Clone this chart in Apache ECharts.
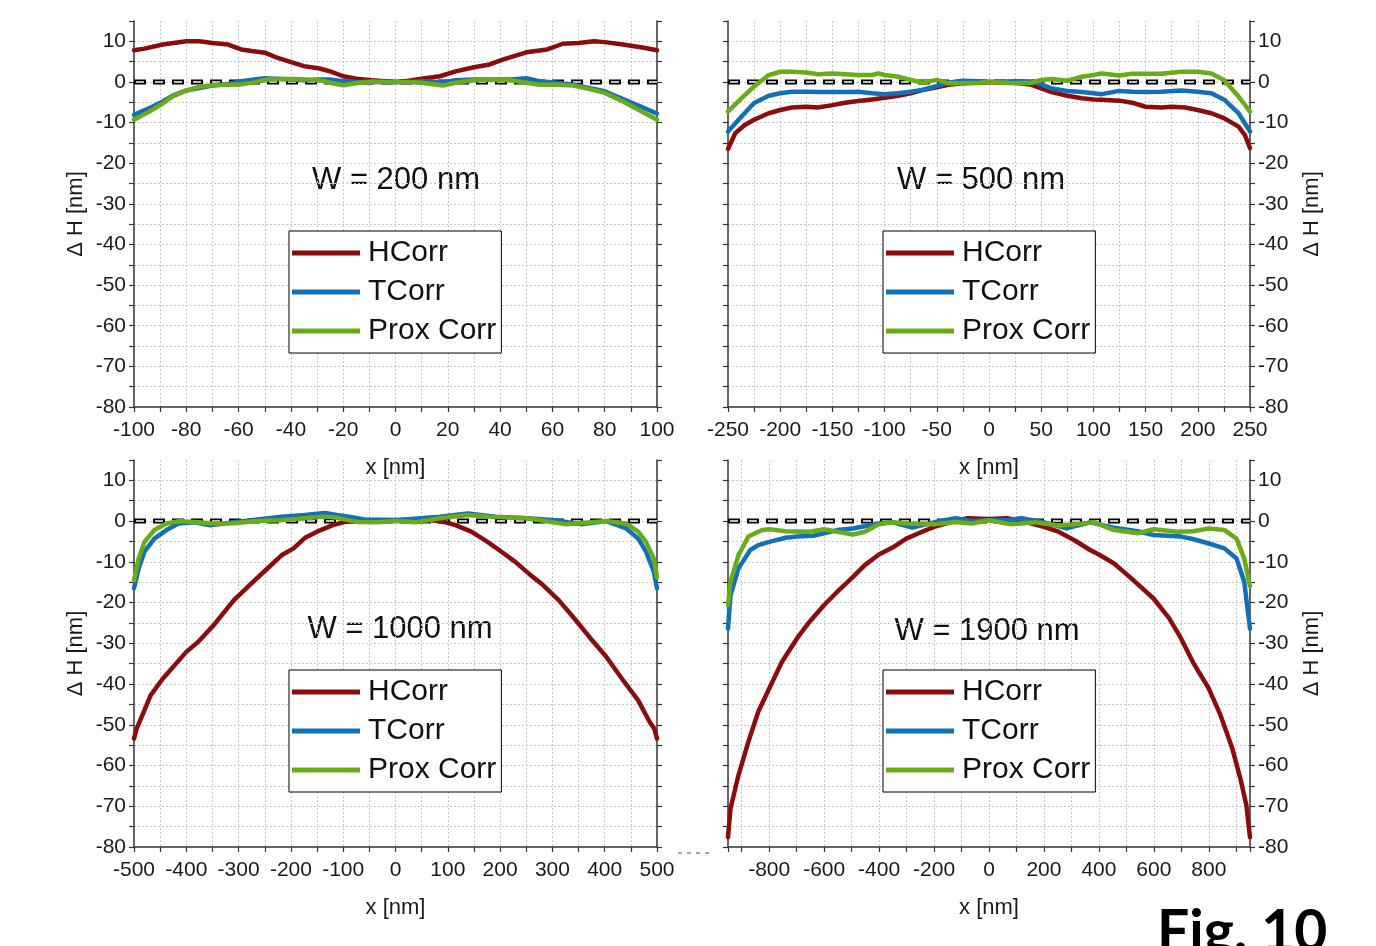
<!DOCTYPE html>
<html>
<head>
<meta charset="utf-8">
<script src="https://cdn.jsdelivr.net/npm/echarts@6/dist/echarts.min.js"></script>
<style>
html,body{margin:0;padding:0;background:#fff;}
#chart{width:1376px;height:946px;}
</style>
</head>
<body>
<div id="chart"></div>
<script>
// ---------- DATA ----------
const seriesNames = ['HCorr', 'TCorr', 'Prox Corr'];
const panelTitles = ['W = 200 nm', 'W = 500 nm', 'W = 1000 nm', 'W = 1900 nm'];
const xAxisName = 'x [nm]';
const yAxisName = 'Δ H [nm]';
const figLabel = 'Fig. 10';
const yRange = [-80, 15];

// W = 200 nm
const xRange200 = [-100, 100];
const hcorr200X = [-100,-96,-89,-80,-75,-70,-64,-59,-55,-50,-45,-39,-35,-29,-25,-20,-14,-9,-4,0,5,10,17,23,30,36,41,50,58,64,70,76,80,87,95,100];
const hcorr200Y = [7.8,8.2,9.2,10.0,10.0,9.6,9.2,8.0,7.6,7.2,5.9,4.7,3.9,3.3,2.6,1.4,0.7,0.4,0.2,0,0.3,0.8,1.4,2.6,3.6,4.3,5.5,7.3,8.0,9.4,9.6,10.0,9.8,9.2,8.4,7.8];
const tcorr200X = [-100,-95,-89,-85,-80,-75,-70,-64,-59,-54,-50,-44,-39,-34,-29,-25,-20,-14,-9,-4,0,5,10,18,23,30,36,44,50,55,62,68,74,80,87,94,100];
const tcorr200Y = [-8.1,-6.7,-4.8,-3.3,-2.1,-1.5,-0.9,-0.5,0.2,0.6,0.9,0.7,0.6,0.4,0.6,0.6,0.2,0,0,0,0,0,0.2,-0.1,0.4,0.6,0.6,0.6,0.9,0.2,-0.2,-0.7,-1.5,-2.3,-4.2,-6.1,-7.8];
const prox200X = [-100,-95,-89,-85,-80,-75,-70,-64,-59,-54,-49,-44,-39,-34,-29,-25,-20,-14,-9,-4,0,5,10,18,23,30,36,44,50,55,62,68,74,80,87,94,100];
const prox200Y = [-9.3,-7.6,-5.3,-3.5,-2.1,-1.2,-0.8,-0.7,-0.6,-0.1,0.6,0.7,0.7,0.6,0.4,-0.2,-0.8,-0.2,0.1,0,0,0,-0.2,-0.9,-0.2,0.4,0.6,0.4,-0.2,-0.7,-0.7,-0.9,-1.7,-2.7,-4.8,-7.2,-9.3];

// W = 500 nm
const xRange500 = [-250, 250];
const hcorr500X = [-250,-243,-234,-225,-211,-200,-189,-175,-164,-150,-138,-125,-112,-100,-87,-75,-64,-50,-39,-25,-10,0,25,41,50,60,75,89,100,108,125,137,150,165,175,188,200,213,225,239,245,250];
const hcorr500Y = [-16.5,-12.6,-10.6,-9.3,-7.7,-6.9,-6.3,-6.1,-6.3,-5.7,-5.1,-4.7,-4.3,-3.9,-3.4,-2.8,-2.0,-1.3,-0.7,-0.3,-0.2,0,-0.2,-0.7,-1.6,-2.5,-3.4,-4.0,-4.3,-4.4,-4.6,-5.1,-6.1,-6.3,-6.1,-6.3,-6.9,-7.7,-8.9,-11.0,-13.0,-16.3];
const tcorr500X = [-250,-237,-225,-211,-200,-189,-175,-164,-150,-138,-125,-112,-100,-87,-75,-64,-50,-39,-25,-10,0,25,41,50,60,75,89,100,108,125,137,150,165,184,200,213,225,239,250];
const tcorr500Y = [-12.2,-8.5,-5.2,-3.4,-2.8,-2.4,-2.4,-2.5,-2.5,-2.5,-2.4,-2.8,-3.0,-2.8,-2.4,-2.0,-1.0,-0.2,0.3,0.2,0,0.2,0.1,-0.6,-1.6,-2.2,-2.5,-2.8,-3.0,-2.2,-2.4,-2.5,-2.4,-2.1,-2.4,-2.8,-4.3,-7.7,-12.2];
const prox500X = [-250,-237,-225,-211,-200,-189,-175,-164,-150,-138,-125,-112,-106,-100,-87,-75,-64,-50,-39,-25,-10,0,25,41,50,60,75,89,100,108,125,137,150,165,184,200,213,225,239,250];
const prox500Y = [-7.3,-4.0,-1.1,1.7,2.5,2.5,2.3,1.9,2.1,1.9,1.7,1.7,2.1,1.7,1.3,0.5,-0.2,0.5,-0.3,-0.3,-0.2,0,-0.3,-0.2,0.5,0.7,0.3,1.3,1.7,2.1,1.6,2.0,2.0,2.0,2.5,2.5,2.1,0.5,-3.6,-7.3];

// W = 1000 nm
const xRange1000 = [-500, 500];
const hcorr1000X = [-500,-495,-468,-445,-400,-377,-348,-309,-279,-248,-218,-195,-173,-150,-120,-97,-67,0,70,96,115,145,176,198,229,255,282,312,342,373,403,433,464,486,495,500];
const hcorr1000Y = [-53.4,-51,-42.7,-38.7,-32.1,-29.6,-25.6,-19.4,-15.7,-12.0,-8.4,-6.7,-4.1,-2.6,-1.0,-0.2,0.2,0.3,0.2,-0.3,-1.0,-2.6,-5.1,-7.1,-10.0,-12.9,-15.7,-19.4,-23.9,-28.8,-33.3,-38.7,-44,-49.3,-51,-53.4];
const tcorr1000X = [-500,-491,-480,-461,-438,-415,-385,-354,-309,-264,-218,-173,-135,-112,-89,-59,0,85,138,191,252,305,356,403,441,464,479,494,500];
const tcorr1000Y = [-16.5,-11.6,-7.5,-4.3,-2.2,-0.6,-0.3,-1.0,-0.3,0.4,1.1,1.5,2.0,1.5,1.1,0.4,0.2,1.1,1.9,1.1,0.7,0.2,-0.8,0,-1.8,-4.3,-7.5,-12.4,-16.5];
const prox1000X = [-500,-491,-480,-461,-438,-415,-385,-347,-309,-264,-218,-173,-135,-112,-74,-36,0,39,85,138,176,252,327,403,441,464,479,494,500];
const prox1000Y = [-14.5,-9.2,-5.1,-2.2,-0.6,0,-0.2,-0.6,-0.5,0,0.2,0.7,1.1,0.8,-0.2,-0.3,0,-0.3,0.7,1.5,1.1,0.7,-0.8,0,-0.6,-2.6,-5.1,-9.2,-13.8];

// W = 1900 nm
const xRange1900 = [-950, 950];
const hcorr1900X = [-950,-941,-912,-876,-840,-800,-754,-699,-653,-600,-553,-495,-452,-401,-351,-301,-250,-200,-135,-78,0,66,138,200,253,311,368,400,455,512,599,656,699,742,800,843,886,915,937,950];
const hcorr1900Y = [-77.6,-70.6,-62.4,-54.2,-46.8,-41.1,-34.6,-28.8,-24.7,-20.6,-17.4,-13.7,-10.8,-8.2,-6.5,-4.3,-2.8,-1.4,-0.2,0.7,0.5,0.7,-0.3,-1.4,-2.6,-4.7,-7.1,-8.2,-10.4,-13.7,-19.0,-23.9,-28.8,-34.6,-41.1,-47.7,-55.9,-63.2,-69.8,-77.6];
const tcorr1900X = [-950,-941,-912,-869,-840,-800,-740,-699,-639,-600,-553,-495,-401,-351,-279,-200,-121,-63,0,66,118,200,282,368,455,541,599,699,742,800,857,901,929,950];
const tcorr1900Y = [-26.4,-18.2,-11.6,-7.1,-5.9,-5.1,-4.1,-3.8,-3.6,-3.0,-2.2,-1.8,-0.6,-0.3,-1.6,-0.3,0.7,0,0.2,0.2,0.7,-0.3,-1.8,-0.3,-1.6,-2.5,-3.4,-3.8,-4.4,-5.5,-6.7,-9.2,-14.9,-26.4];
const prox1900X = [-950,-941,-912,-876,-826,-800,-740,-653,-600,-553,-495,-452,-401,-351,-294,-200,-121,-63,0,81,167,253,311,383,455,541,599,685,742,800,857,901,929,950];
const prox1900Y = [-20.6,-14.9,-8.4,-3.8,-2.2,-2.0,-2.5,-2.6,-2.0,-2.6,-3.3,-2.6,-0.8,-0.3,-0.6,-0.8,-0.2,-0.6,0.2,-0.8,-0.3,-1.1,-0.8,-0.3,-2.2,-3.0,-2.0,-2.6,-2.5,-1.8,-2.2,-4.3,-9.2,-16.0];

// ---------- STYLE / LAYOUT ----------
const FONT = '"Liberation Sans", Arial, sans-serif';
const colors = ['#8a0c0c', '#1470b6', '#6aab1a'];
const grids = [
  {left: 134, top: 21, width: 523, height: 386},
  {left: 728, top: 21, width: 522, height: 386},
  {left: 134, top: 460, width: 523, height: 387},
  {left: 728, top: 460, width: 522, height: 387}
];
const panels = [
  {range: xRange200, interval: 10, labelStep: 20, data: [[hcorr200X, hcorr200Y], [tcorr200X, tcorr200Y], [prox200X, prox200Y]], yRight: false, title: [396, 180], legend: [289, 231]},
  {range: xRange500, interval: 25, labelStep: 50, data: [[hcorr500X, hcorr500Y], [tcorr500X, tcorr500Y], [prox500X, prox500Y]], yRight: true, title: [981, 180], legend: [883, 231]},
  {range: xRange1000, interval: 50, labelStep: 100, data: [[hcorr1000X, hcorr1000Y], [tcorr1000X, tcorr1000Y], [prox1000X, prox1000Y]], yRight: false, title: [400, 629], legend: [289, 670]},
  {range: xRange1900, interval: null, splitNumber: 19, labelStep: 200, data: [[hcorr1900X, hcorr1900Y], [tcorr1900X, tcorr1900Y], [prox1900X, prox1900Y]], yRight: true, title: [987, 631], legend: [883, 670]}
];

const zip = (xs, ys) => xs.map((x, i) => [x, ys[i]]);
const gridLine = {show: true, showMinLine: false, showMaxLine: false, lineStyle: {color: '#c9c9c9', width: 1, type: [2, 2]}};
const axisLine = {show: true, onZero: false, lineStyle: {color: '#333', width: 1.5}};

const xAxes = [], yAxes = [], series = [], legends = [], graphics = [];

panels.forEach((p, gi) => {
  const xa = {
    type: 'value', gridIndex: gi, min: p.range[0], max: p.range[1],
    axisLine: axisLine,
    axisTick: {show: true, length: 5, lineStyle: {color: '#333', width: 1.2}},
    axisLabel: {
      fontSize: 21, fontFamily: FONT, color: '#1a1a1a', margin: 13,
      showMinLabel: true, showMaxLabel: true,
      formatter: v => (v % p.labelStep === 0 && Math.abs(v) < 949.5 || (Math.abs(v) === Math.abs(p.range[1]) && p.range[1] % p.labelStep === 0)) ? String(v) : ''
    },
    splitLine: gridLine,
    name: xAxisName, nameLocation: 'middle', nameGap: 50,
    nameTextStyle: {fontSize: 22, fontFamily: FONT, color: '#1a1a1a'}
  };
  if (p.interval) xa.interval = p.interval; else xa.splitNumber = p.splitNumber;
  xAxes.push(xa);

  const mainPos = p.yRight ? 'right' : 'left';
  const otherPos = p.yRight ? 'left' : 'right';
  yAxes.push({
    type: 'value', gridIndex: gi, position: mainPos, min: yRange[0], max: yRange[1], interval: 5,
    axisLine: axisLine,
    axisTick: {show: true, length: 5, lineStyle: {color: '#333', width: 1.2}},
    axisLabel: {fontSize: 21, fontFamily: FONT, color: '#1a1a1a', margin: 8,
      formatter: v => (v % 10 === 0 && v <= 10) ? String(v) : ''},
    splitLine: gridLine,
    name: yAxisName, nameLocation: 'middle', nameRotate: 90, nameGap: p.yRight ? 51 : 47,
    nameTextStyle: {fontSize: 22, fontFamily: FONT, color: '#1a1a1a'}
  });
  yAxes.push({
    type: 'value', gridIndex: gi, position: otherPos, min: yRange[0], max: yRange[1], interval: 5,
    axisLine: axisLine,
    axisTick: {show: true, length: 5, lineStyle: {color: '#333', width: 1.2}},
    axisLabel: {show: false},
    splitLine: {show: false}
  });

  const yIdx = gi * 2;
  const zeroData = [[p.range[0], 0], [p.range[1], 0]];
  series.push({
    type: 'line', name: 'zero', xAxisIndex: gi, yAxisIndex: yIdx, data: zeroData,
    showSymbol: false, silent: true, z: 1,
    lineStyle: {color: '#000', width: 5, type: [12, 7]}
  });
  series.push({
    type: 'line', name: 'zero2', xAxisIndex: gi, yAxisIndex: yIdx, data: zeroData,
    showSymbol: false, silent: true, z: 1,
    lineStyle: {color: '#fff', width: 1.5, type: [8, 11], dashOffset: -2}
  });
  p.data.forEach((d, si) => {
    series.push({
      type: 'line', name: seriesNames[si], xAxisIndex: gi, yAxisIndex: yIdx,
      data: zip(d[0], d[1]), showSymbol: false, z: 3 + si,
      color: colors[si],
      lineStyle: {color: colors[si], width: 4.5, join: 'round', cap: 'round'}
    });
  });

  legends.push({
    left: p.legend[0], top: p.legend[1], orient: 'vertical',
    data: seriesNames, icon: 'rect', itemWidth: 68, itemHeight: 5, itemGap: 9,
    padding: [7, 5, 7, 3], borderColor: '#000', borderWidth: 1, backgroundColor: '#fff',
    selectedMode: false,
    textStyle: {fontSize: 30, fontFamily: FONT, color: '#111', padding: [0, 0, 0, 3]}
  });

  graphics.push({
    type: 'text', x: p.title[0], y: p.title[1],
    style: {text: panelTitles[gi], fontSize: 31, fontFamily: FONT, fill: '#111', align: 'center', verticalAlign: 'middle'}
  });
});

graphics.push({
  type: 'text', left: 1157, top: 904, z: 100,
  style: {text: figLabel, fontSize: 57, fontWeight: 'bold', fontFamily: 'Lato, "Liberation Sans", sans-serif', fill: '#000'}
});
graphics.push({
  type: 'line', shape: {x1: 678, y1: 853, x2: 714, y2: 853},
  style: {stroke: '#888', lineWidth: 1.5, lineDash: [4, 5]}
});

const chart = echarts.init(document.getElementById('chart'), null, {renderer: 'canvas'});
chart.setOption({
  animation: false,
  backgroundColor: '#fff',
  grid: grids,
  xAxis: xAxes,
  yAxis: yAxes,
  legend: legends,
  series: series,
  graphic: graphics
});
</script>
</body>
</html>
